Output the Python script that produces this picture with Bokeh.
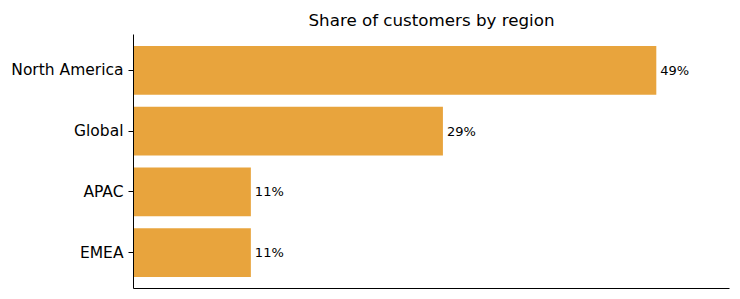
from bokeh.plotting import figure
from bokeh.models import FactorRange, Range1d, ColumnDataSource, FixedTicker
from bokeh.core.properties import value
from bokeh.embed import file_html
from bokeh.resources import INLINE

regions = ["EMEA", "APAC", "Global", "North America"]
shares = [11, 11, 29, 49]
labels = ["11%", "11%", "29%", "49%"]

src = ColumnDataSource(dict(region=regions, share=shares, label=labels))

p = figure(
    width=740, height=299,
    y_range=FactorRange(factors=regions, range_padding=0.09, range_padding_units="absolute"),
    x_range=Range1d(0, 55.86),
    output_backend="svg", toolbar_location=None,
    title="Share of customers by region",
    min_border_left=133, min_border_right=11, min_border_top=34, min_border_bottom=11,
)
p.hbar(y="region", right="share", height=0.8, source=src, color="#e8a43d", line_color=None)
p.text(x="share", y="region", text="label", source=src, x_offset=4,
       text_baseline="middle", text_align="left", text_font=value("DejaVu Sans"),
       text_font_size="13px", text_color="black")

p.title.align = "center"
p.title.text_font = "DejaVu Sans"
p.title.text_font_size = "16.7px"
p.title.text_font_style = "normal"
p.title.text_color = "black"
p.title.offset = 0

p.xgrid.visible = False
p.ygrid.visible = False
p.outline_line_color = None
p.background_fill_color = "white"
p.border_fill_color = "white"

ya = p.yaxis[0]
ya.major_label_text_font = "DejaVu Sans"
ya.major_label_text_font_size = "15.5px"
ya.major_label_text_color = "black"
ya.major_tick_out = 5
ya.major_tick_in = 0
ya.minor_tick_out = 0
ya.major_label_standoff = 5
ya.axis_line_color = "black"
ya.major_tick_line_color = "black"

xa = p.xaxis[0]
xa.ticker = FixedTicker(ticks=[])
xa.major_tick_out = 0
xa.major_tick_in = 0
xa.minor_tick_out = 0
xa.minor_tick_in = 0
xa.major_label_text_font_size = "0px"
xa.axis_line_color = "black"

open("out.html", "w").write(file_html(p, INLINE))
